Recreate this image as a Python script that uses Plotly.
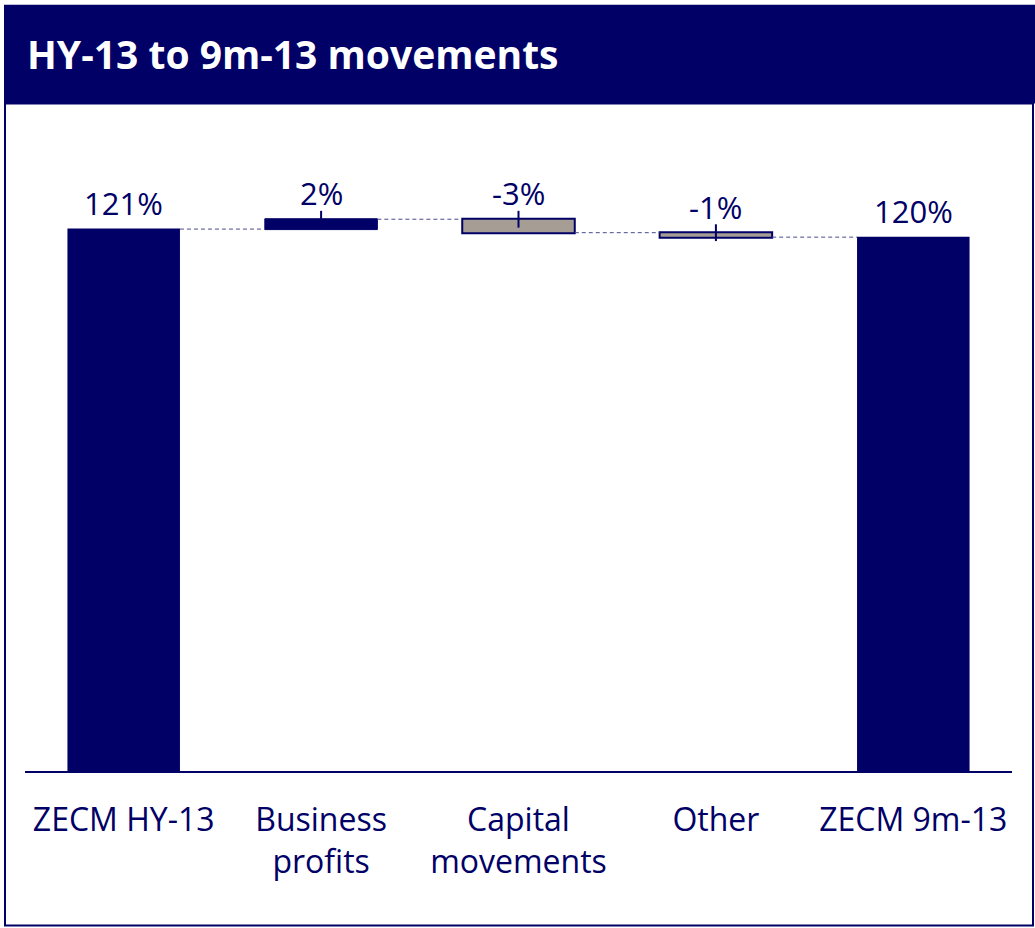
import plotly.graph_objects as go

# ---- data ----
categories = ["ZECM HY-13", "Business<br>profits", "Capital<br>movements", "Other", "ZECM 9m-13"]
measures = ["absolute", "relative", "relative", "relative", "total"]
values = [121.0, 2.2, -3.0, -1.0, 0]
value_labels = ["121%", "2%", "-3%", "-1%", "120%"]
title_text = "HY-13 to 9m-13 movements"

NAVY = "#000066"
GREY = "#a69d94"
CONN = "#4b4b8f"
FONT = "Open Sans"

W, H = 1035, 928
# plot area in screen pixels
X0, X1, Y0, Y1 = 25, 1012, 143.5, 771.3
L, R, T, B = X0, W - X1, Y0, H - Y1
PW, PH = X1 - X0, Y1 - Y0

def px(X):
    return (X - X0) / PW

def py(Y):
    return (Y1 - Y) / PH

# cumulative tops
tops = []
run = 0.0
for m, v in zip(measures, values):
    if m == "absolute":
        run = v; tops.append(v)
    elif m == "relative":
        tops.append(max(run, run + v)); run += v
    else:
        tops.append(run)

fig = go.Figure()
fig.add_trace(go.Waterfall(
    x=categories, y=values, measure=measures,
    width=0.57,
    increasing=dict(marker=dict(color=NAVY, line=dict(color=NAVY, width=1))),
    decreasing=dict(marker=dict(color=GREY, line=dict(color=NAVY, width=2))),
    totals=dict(marker=dict(color=NAVY, line=dict(color=NAVY, width=0))),
    connector=dict(line=dict(color=CONN, width=1, dash="4px,3px"), mode="between"),
    textinfo="none", hoverinfo="skip", showlegend=False,
))

# tick marks at top of delta bars
dx = [categories[i] for i in range(1, 4)]
dy = [tops[i] for i in range(1, 4)]
fig.add_trace(go.Scatter(
    x=dx, y=dy, mode="markers",
    marker=dict(symbol="line-ns", size=12, line=dict(color=NAVY, width=2)),
    hoverinfo="skip", showlegend=False,
))

annotations = []
for c, t, lab in zip(categories, tops, value_labels):
    annotations.append(dict(x=c, y=t, text=lab, showarrow=False, xref="x", yref="y",
                            yanchor="bottom", yshift=3,
                            font=dict(family=FONT, size=31, color=NAVY)))
annotations.append(dict(x=px(25), y=py(53), xref="paper", yref="paper", text="<b>" + title_text + "</b>",
                        showarrow=False, xanchor="left", yanchor="middle",
                        font=dict(family=FONT, size=39, color="white")))

shapes = [
    dict(type="rect", xref="paper", yref="paper", x0=px(4), x1=px(1040), y0=py(4), y1=py(103),
         fillcolor=NAVY, line=dict(width=0), layer="below"),
    dict(type="rect", xref="paper", yref="paper", x0=px(5), x1=px(1033), y0=py(103), y1=py(926),
         fillcolor="rgba(0,0,0,0)", line=dict(color=NAVY, width=2), layer="below"),
]

fig.update_layout(
    width=W, height=H,
    margin=dict(l=L, r=R, t=T, b=B, pad=0),
    paper_bgcolor="white", plot_bgcolor="white",
    annotations=annotations, shapes=shapes,
    xaxis=dict(range=[-0.5, 4.5], showline=True, linecolor=NAVY, linewidth=2,
               showgrid=False, zeroline=False, ticks="outside", ticklen=20, tickcolor="rgba(0,0,0,0)",
               tickfont=dict(family=FONT, size=32, color=NAVY)),
    yaxis=dict(range=[0, 140], visible=False),
    font=dict(family=FONT, color=NAVY),
)

fig.write_html("out.html", config={"displayModeBar": False},
               post_script="document.body.style.margin='0';document.body.style.overflow='hidden';")
